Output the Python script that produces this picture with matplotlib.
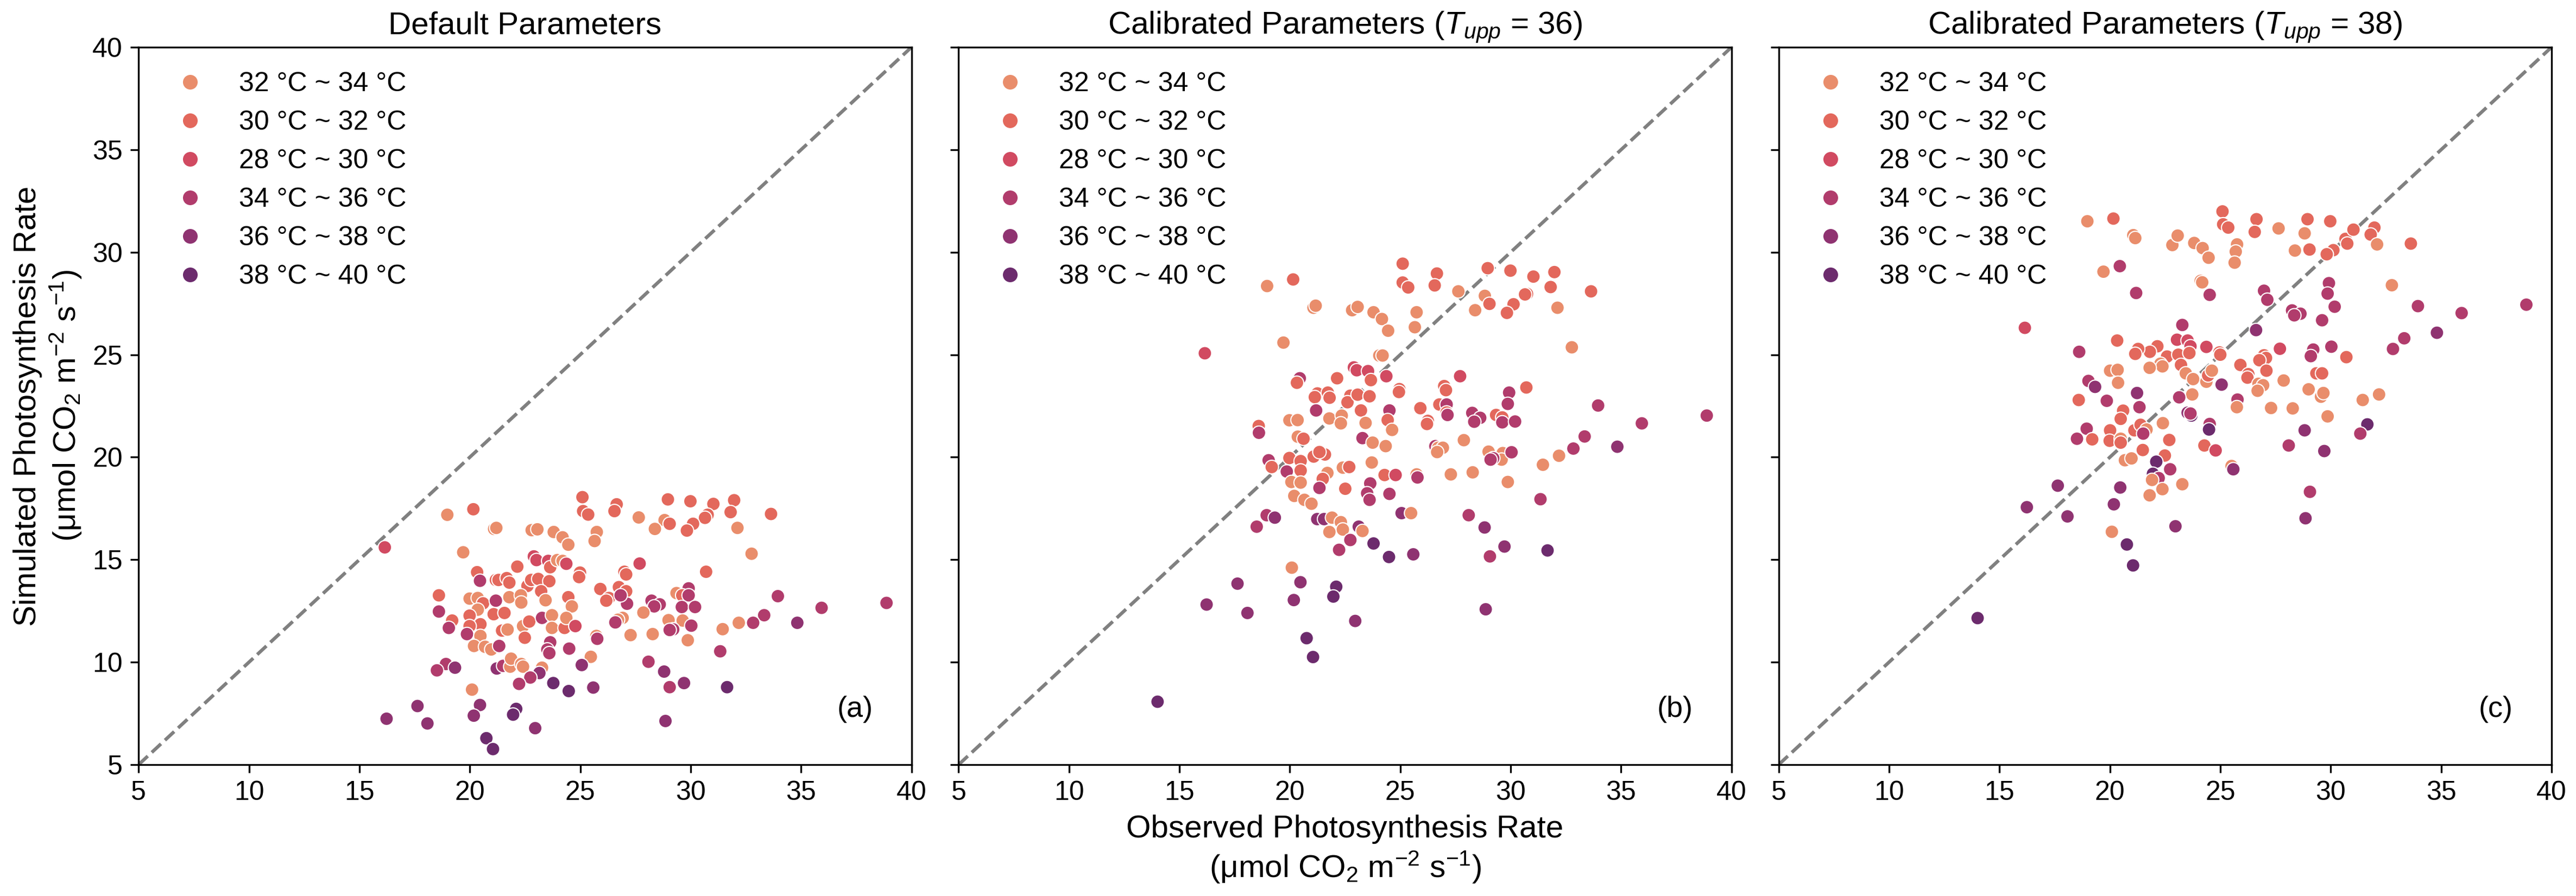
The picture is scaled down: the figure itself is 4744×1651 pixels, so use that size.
import matplotlib
matplotlib.use("Agg")
import matplotlib.pyplot as plt
from matplotlib.lines import Line2D
import seaborn as sns

plt.rcParams['font.family'] = ['Liberation Sans', 'DejaVu Sans']
plt.rcParams['mathtext.fontset'] = 'custom'
plt.rcParams['mathtext.rm'] = 'Liberation Sans'
plt.rcParams['mathtext.it'] = 'Liberation Sans:italic'

# temperature classes, in legend order
groups = ['32 °C ~ 34 °C', '30 °C ~ 32 °C', '28 °C ~ 30 °C',
          '34 °C ~ 36 °C', '36 °C ~ 38 °C', '38 °C ~ 40 °C']

titles = ['Default Parameters',
          'Calibrated Parameters ($T_{upp}$ = 36)',
          'Calibrated Parameters ($T_{upp}$ = 38)']
panel_tags = ['(a)', '(b)', '(c)']

# (a) default parameters: observed, simulated, class index
a_obs = [16.15, 18.98, 20.16, 21.10, 21.20, 19.70, 22.80, 23.06, 23.80, 24.20, 24.46,
         25.10, 25.13, 25.36, 26.65, 26.55, 25.75, 25.65, 22.90, 23.02, 23.55, 23.64,
         23.96, 24.20, 24.37, 24.99, 24.95, 22.15, 20.33, 20.46, 21.18, 21.30, 21.67, 21.79,
         22.61, 22.78, 23.10, 23.60, 23.23, 23.43, 24.46, 24.62, 25.91, 26.30, 26.18,
         26.75, 27.00, 27.08, 27.08, 27.12, 26.83, 26.92, 26.71, 26.59, 25.73, 25.77, 27.28,
         18.60, 18.60, 19.20, 19.05, 19.99, 20.36, 20.60, 20.36, 19.99, 20.48, 19.99,
         19.87, 20.48, 20.19, 20.69, 20.97, 21.33, 21.18, 21.08, 21.57, 21.79, 22.31, 22.33,
         21.46, 21.71, 22.41, 22.69, 22.49, 23.27, 23.72, 23.72, 24.29, 24.37, 24.78,
         23.64, 23.51, 23.60, 24.50, 25.48, 25.07, 18.92, 18.51, 19.33, 21.22, 21.51,
         21.83, 21.87, 22.33, 22.41, 23.27, 23.15, 22.74, 22.23, 23.78, 24.48, 25.59,
         20.10, 17.63, 16.23, 18.08, 20.46, 20.18, 22.10, 21.96, 22.96, 20.75, 21.05,
         28.97, 29.99, 31.03, 30.77, 30.65, 31.97, 31.81, 33.64, 28.82, 29.05, 28.38,
         30.11, 29.83, 32.12, 32.76, 27.69, 30.70, 27.65, 29.91, 29.36, 29.62, 29.91,
         28.23, 28.60, 28.35, 29.60, 30.20, 27.86, 33.95, 35.93, 38.87, 33.33, 32.83,
         32.18, 31.45, 34.83, 29.00, 29.64, 30.03, 29.21, 29.05, 29.87, 28.28, 31.34,
         28.09, 28.80, 29.05, 29.70, 31.65, 28.86]
a_sim = [15.60, 17.19, 17.46, 16.50, 16.55, 15.36, 16.44, 16.48, 16.35, 16.09, 15.73,
         18.05, 17.37, 17.20, 17.70, 17.37, 16.35, 15.91, 15.16, 14.98, 14.94, 14.63,
         14.98, 14.94, 14.80, 14.37, 14.15, 14.66, 14.39, 13.97, 14.01, 14.01, 14.10, 13.88,
         13.72, 14.01, 14.06, 13.95, 13.46, 13.02, 13.17, 12.72, 13.57, 13.13, 13.00,
         13.66, 14.41, 14.28, 13.46, 12.85, 13.26, 12.16, 12.07, 11.94, 11.28, 11.14, 11.32,
         13.26, 12.47, 12.03, 11.67, 13.10, 13.13, 12.87, 12.56, 12.27, 11.85, 11.76,
         11.37, 11.28, 10.79, 10.75, 10.62, 10.79, 13.00, 12.34, 12.40, 13.17, 13.26, 12.91,
         11.54, 11.59, 11.76, 11.98, 11.19, 12.16, 12.29, 11.67, 11.67, 12.16, 11.76,
         10.97, 10.62, 10.44, 10.66, 10.26, 9.86, 9.91, 9.60, 9.73, 9.69, 9.82,
         9.78, 10.17, 9.91, 9.78, 9.73, 9.47, 9.25, 8.94, 8.98, 8.59, 8.76,
         8.66, 7.86, 7.24, 7.01, 7.91, 7.39, 7.72, 7.44, 6.78, 6.29, 5.76,
         17.94, 17.85, 17.72, 17.19, 17.04, 17.90, 17.32, 17.23, 16.93, 16.75, 16.50,
         16.75, 16.42, 16.55, 15.29, 14.81, 14.41, 17.06, 13.60, 13.37, 13.26, 13.26,
         13.00, 12.82, 12.72, 12.69, 12.69, 12.42, 13.22, 12.65, 12.89, 12.29, 11.92,
         11.92, 11.61, 11.92, 12.05, 12.03, 11.78, 11.60, 11.57, 11.07, 11.37, 10.53,
         10.02, 9.54, 8.78, 8.98, 8.78, 7.13]
a_grp = [2, 0, 1, 0, 0, 0, 0, 0, 0, 0, 0,
         1, 1, 1, 1, 1, 0, 0, 2, 2, 2, 1,
         0, 0, 2, 1, 1, 1, 1, 3, 1, 1, 1, 1,
         1, 1, 1, 1, 1, 0, 1, 0, 1, 1, 1,
         1, 1, 1, 1, 3, 3, 0, 0, 3, 0, 3, 0,
         1, 3, 1, 3, 0, 0, 1, 0, 1, 1, 1,
         3, 0, 0, 0, 0, 3, 3, 1, 1, 0, 0, 0,
         1, 0, 0, 1, 1, 3, 0, 0, 1, 0, 2,
         3, 3, 3, 3, 0, 4, 3, 3, 4, 4, 3,
         0, 0, 0, 0, 0, 4, 3, 3, 5, 5, 4,
         0, 4, 4, 4, 4, 4, 5, 5, 4, 5, 5,
         1, 1, 1, 1, 1, 1, 1, 1, 0, 1, 0,
         1, 1, 0, 0, 2, 1, 0, 3, 0, 1, 3,
         3, 3, 3, 3, 3, 0, 3, 3, 3, 3, 3,
         0, 0, 4, 0, 0, 3, 3, 3, 0, 0, 3,
         3, 4, 3, 4, 5, 4]

# (b) calibrated, T_upp = 36
b_obs = [25.11, 25.11, 25.36, 18.97, 20.15, 21.07, 21.17, 22.82, 23.07, 23.79, 24.17, 24.45,
         25.74, 25.66, 19.71, 16.15, 24.05, 24.20, 22.90, 23.03, 23.54, 23.67, 24.37, 20.45,
         20.32, 22.14, 24.96, 24.94, 21.25, 21.13, 21.72, 21.80, 22.74, 22.61, 23.07, 23.61,
         25.91, 26.25, 26.21, 21.19, 23.22, 24.51, 24.43, 24.63, 18.59, 18.60, 19.98, 20.35,
         21.79, 22.35, 22.31, 23.43, 20.36, 20.62, 23.29, 23.75, 24.34, 19.04, 19.18, 19.98,
         20.49, 19.86, 20.49, 20.07, 20.49, 20.20, 20.66, 20.98, 21.08, 21.59, 21.34, 21.70,
         21.49, 21.34, 22.40, 22.69, 23.71, 24.29, 24.79, 25.74, 25.78, 23.64, 23.50, 23.61,
         22.51, 24.51, 25.06, 25.49, 18.95, 19.32, 18.50, 21.24, 21.55, 21.91, 22.31, 22.40,
         21.79, 23.12, 23.29, 22.74, 22.23, 23.79, 24.49, 25.59, 20.09, 17.63, 16.23, 18.08,
         20.48, 20.18, 22.10, 21.97, 22.96, 20.76, 21.05, 14.01, 26.66, 26.56, 28.96, 29.99,
         31.03, 31.98, 27.63, 28.83, 29.04, 28.39, 30.13, 29.83, 30.74, 30.65, 31.81, 33.64,
         32.12, 32.77, 27.71, 26.99, 27.07, 30.71, 29.93, 29.87, 26.77, 27.10, 27.10, 27.14,
         28.26, 28.62, 28.35, 29.34, 29.62, 29.62, 30.20, 33.96, 35.94, 38.88, 26.59, 26.72,
         26.93, 26.67, 27.88, 29.00, 29.64, 29.59, 30.04, 29.21, 29.09, 27.29, 28.28, 29.87,
         31.46, 32.19, 32.84, 33.35, 34.83, 31.35, 28.10, 28.82, 29.72, 29.06, 31.67, 28.87]
b_sim = [29.44, 28.52, 28.28, 28.35, 28.67, 27.29, 27.39, 27.17, 27.33, 27.07, 26.74, 26.17,
         27.07, 26.34, 25.59, 25.07, 24.96, 24.96, 24.38, 24.24, 24.20, 23.76, 23.95, 23.85,
         23.63, 23.85, 23.32, 23.18, 23.11, 22.93, 23.15, 22.90, 23.00, 22.68, 23.05, 22.97,
         22.39, 21.77, 21.62, 22.28, 22.28, 22.28, 21.81, 21.33, 21.52, 21.19, 21.80, 21.81,
         21.89, 22.03, 21.65, 21.67, 21.00, 20.90, 20.93, 20.71, 20.54, 19.85, 19.52, 19.96,
         19.81, 19.30, 19.35, 18.79, 18.76, 18.11, 17.92, 17.73, 20.03, 20.13, 20.25, 19.23,
         18.94, 18.50, 19.49, 19.52, 19.74, 19.13, 19.13, 19.16, 19.01, 18.72, 18.24, 17.92,
         18.46, 18.21, 17.27, 17.27, 17.17, 17.05, 16.61, 16.98, 16.98, 17.05, 16.83, 16.47,
         16.35, 16.61, 16.40, 15.96, 15.48, 15.79, 15.13, 15.26, 14.61, 13.83, 12.81, 12.40,
         13.90, 13.03, 13.68, 13.20, 12.01, 11.17, 10.25, 8.07, 28.96, 28.38, 29.22, 29.10,
         28.81, 29.03, 28.09, 27.87, 27.48, 27.17, 27.46, 27.04, 27.97, 27.94, 28.30, 28.09,
         27.29, 25.36, 23.95, 23.47, 23.27, 23.40, 23.15, 22.60, 22.57, 22.57, 22.18, 22.06,
         22.16, 21.92, 21.73, 22.06, 21.94, 21.70, 21.74, 22.52, 21.65, 22.03, 20.54, 20.46,
         20.46, 20.25, 20.83, 20.27, 20.20, 19.88, 20.24, 19.95, 19.88, 19.16, 19.26, 18.79,
         19.63, 20.07, 20.42, 21.01, 20.51, 17.95, 17.17, 16.57, 15.64, 15.16, 15.45, 12.58]
b_grp = [1, 1, 1, 0, 1, 0, 0, 0, 0, 0, 0, 0,
         0, 0, 0, 2, 0, 0, 2, 2, 2, 1, 2, 3,
         1, 1, 1, 1, 1, 1, 1, 1, 1, 1, 1, 1,
         1, 1, 1, 3, 1, 3, 1, 0, 1, 3, 0, 0,
         0, 0, 0, 0, 0, 1, 3, 0, 0, 3, 1, 1,
         1, 3, 1, 0, 0, 0, 0, 0, 1, 1, 1, 0,
         1, 3, 0, 1, 0, 1, 2, 0, 3, 3, 3, 3,
         1, 3, 4, 0, 3, 4, 3, 4, 4, 0, 0, 0,
         0, 4, 0, 3, 3, 5, 5, 4, 0, 4, 4, 4,
         4, 4, 5, 5, 4, 5, 5, 5, 1, 1, 1, 1,
         1, 1, 0, 0, 1, 0, 1, 1, 1, 1, 1, 1,
         0, 0, 2, 1, 1, 1, 3, 3, 1, 3, 1, 3,
         3, 3, 3, 1, 1, 3, 3, 3, 3, 3, 3, 0,
         0, 0, 0, 0, 0, 0, 3, 3, 3, 0, 0, 0,
         0, 0, 3, 3, 4, 3, 3, 4, 4, 3, 5, 4]

# (c) calibrated, T_upp = 38
c_obs = [18.98, 20.16, 21.06, 21.15, 22.83, 23.07,
         23.82, 24.20, 24.47, 25.10, 25.13, 25.36,
         25.76, 25.70, 25.65, 19.71, 20.45, 21.19,
         24.11, 24.18, 24.52, 16.15, 23.28, 18.61,
         20.33, 23.04, 23.52, 23.65, 22.15, 21.81,
         21.28, 21.15, 24.37, 24.96, 25.00, 22.59,
         23.10, 23.60, 23.22, 22.29, 22.38, 21.80,
         23.44, 23.77, 24.37, 24.45, 24.62, 20.01,
         20.35, 20.37, 19.03, 19.33, 25.91, 26.27,
         26.23, 25.06, 21.23, 18.59, 19.86, 23.73,
         23.14, 21.34, 20.60, 20.49, 25.78, 25.75,
         23.52, 23.69, 23.65, 24.52, 24.49, 22.40,
         18.95, 18.51, 19.20, 20.01, 19.99, 20.49,
         20.49, 21.11, 21.39, 21.66, 21.51, 22.69,
         21.49, 24.28, 24.79, 22.49, 20.68, 20.98,
         22.10, 22.73, 21.95, 22.21, 21.91, 22.38,
         21.80, 23.28, 25.51, 25.59, 17.64, 20.47,
         16.24, 18.08, 20.18, 20.09, 22.97, 20.77,
         21.05, 14.01,
         26.64, 26.56, 27.64, 28.95, 28.82, 29.98,
         28.38, 29.04, 30.12, 29.82, 30.67, 30.75,
         31.03, 31.98, 31.81, 32.10, 33.63, 32.77,
         26.98, 27.13, 29.92, 29.86, 30.18, 28.25,
         28.63, 28.35, 29.61, 33.95, 35.93, 38.86,
         26.62, 34.81, 33.33, 32.82, 27.70, 26.98,
         27.07, 26.77, 27.09, 29.21, 29.10, 30.03,
         30.71, 29.35, 29.61, 27.87, 26.73, 26.94,
         26.69, 29.00, 29.56, 29.67, 27.30, 28.28,
         29.86, 31.45, 32.19, 31.66, 31.34, 28.82,
         28.10, 29.71, 29.06, 28.86]
c_sim = [31.51, 31.64, 30.83, 30.69, 30.35, 30.81,
         30.45, 30.20, 29.73, 31.99, 31.36, 31.20,
         30.38, 30.03, 29.49, 29.05, 29.32, 28.01,
         28.60, 28.53, 27.92, 26.31, 26.45, 25.14,
         25.69, 25.73, 25.69, 25.41, 25.41, 25.14,
         25.28, 25.04, 25.38, 25.11, 25.00, 24.91,
         25.00, 25.08, 24.50, 24.56, 24.43, 24.36,
         24.09, 23.81, 23.68, 23.99, 24.22, 24.22,
         24.26, 23.63, 23.72, 23.43, 24.50, 24.05,
         23.88, 23.54, 23.13, 22.79, 22.75, 23.06,
         22.92, 22.44, 22.27, 21.87, 22.81, 22.44,
         22.17, 22.03, 22.13, 21.62, 21.35, 21.66,
         21.39, 20.90, 20.87, 21.31, 20.80, 20.90,
         20.71, 21.31, 21.58, 21.35, 21.15, 20.84,
         20.35, 20.57, 20.33, 20.08, 19.85, 19.94,
         19.78, 19.41, 19.19, 18.98, 18.89, 18.44,
         18.14, 18.68, 19.57, 19.41, 18.61, 18.52,
         17.56, 17.11, 17.70, 16.36, 16.63, 15.74,
         14.72, 12.15,
         31.61, 30.99, 31.16, 31.61, 30.92, 31.51,
         30.08, 30.13, 30.10, 29.90, 30.65, 30.42,
         31.10, 31.20, 30.86, 30.38, 30.42, 28.39,
         28.12, 27.68, 28.49, 27.98, 27.34, 27.16,
         27.00, 26.92, 26.68, 27.37, 27.03, 27.44,
         26.20, 26.07, 25.80, 25.28, 25.29, 24.97,
         24.84, 24.73, 24.22, 25.25, 24.93, 25.39,
         24.88, 24.09, 24.09, 23.74, 23.58, 23.51,
         23.24, 23.31, 22.95, 23.13, 22.40, 22.38,
         21.99, 22.79, 23.06, 21.60, 21.15, 21.31,
         20.57, 20.30, 18.31, 17.02]
c_grp = [0, 1, 0, 0, 0, 0,
         0, 0, 0, 1, 1, 1,
         0, 0, 0, 0, 3, 3,
         0, 0, 3, 2, 3, 3,
         1, 2, 2, 2, 1, 1,
         1, 1, 2, 1, 1, 1,
         1, 1, 1, 0, 0, 0,
         0, 0, 0, 1, 0, 0,
         0, 0, 3, 4, 1, 1,
         1, 4, 4, 1, 3, 0,
         3, 3, 1, 1, 3, 0,
         4, 5, 3, 3, 5, 0,
         3, 3, 1, 1, 1, 0,
         1, 1, 1, 0, 3, 1,
         1, 1, 2, 1, 0, 0,
         5, 3, 5, 3, 0, 0,
         0, 0, 0, 4, 4, 4,
         4, 4, 4, 0, 4, 5,
         5, 5,
         1, 1, 0, 1, 0, 1,
         0, 1, 1, 1, 1, 1,
         1, 1, 1, 0, 1, 0,
         3, 3, 3, 3, 3, 3,
         3, 3, 3, 3, 3, 3,
         4, 4, 3, 3, 2, 1,
         1, 1, 1, 3, 3, 3,
         1, 1, 1, 0, 0, 0,
         0, 0, 0, 0, 0, 0,
         0, 0, 0, 5, 3, 4,
         3, 4, 3, 4]

panels = [(a_obs, a_sim, a_grp), (b_obs, b_sim, b_grp), (c_obs, c_sim, c_grp)]

palette = sns.color_palette('flare', len(groups))

fig, axes = plt.subplots(1, 3, figsize=(4744 / 300, 1651 / 300), dpi=300, sharey=True)
fig.subplots_adjust(left=0.0538, right=0.9905, bottom=0.1466, top=0.9473, wspace=0.061)

for k, ax in enumerate(axes):
    obs, sim, grp = panels[k]
    # 1:1 line
    ax.plot([5, 40], [5, 40], linestyle='--', color='gray', lw=1.5, zorder=1)
    ax.scatter(obs, sim, c=[palette[g] for g in grp], s=36,
               edgecolors='white', linewidths=0.5, zorder=2)
    ax.set_xlim(5, 40)
    ax.set_ylim(5, 40)
    ax.set_xticks(range(5, 41, 5))
    ax.set_yticks(range(5, 41, 5))
    ax.tick_params(labelsize=12)
    ax.set_title(titles[k], fontsize=14)
    ax.text(0.95, 0.077, panel_tags[k], transform=ax.transAxes,
            ha='right', va='center', fontsize=13)

    handles = [Line2D([], [], marker='o', linestyle='', color=palette[i],
                      markeredgecolor='white', markeredgewidth=0.5, markersize=7)
               for i in range(len(groups))]
    ax.legend(handles, groups, loc='upper left', frameon=False, fontsize=12)

axes[0].set_ylabel('Simulated Photosynthesis Rate\n(μmol CO$_2$ m$^{-2}$ s$^{-1}$)', fontsize=14)
axes[1].set_xlabel('Observed Photosynthesis Rate\n(μmol CO$_2$ m$^{-2}$ s$^{-1}$)', fontsize=14)

fig.savefig('out.png', dpi=300)
